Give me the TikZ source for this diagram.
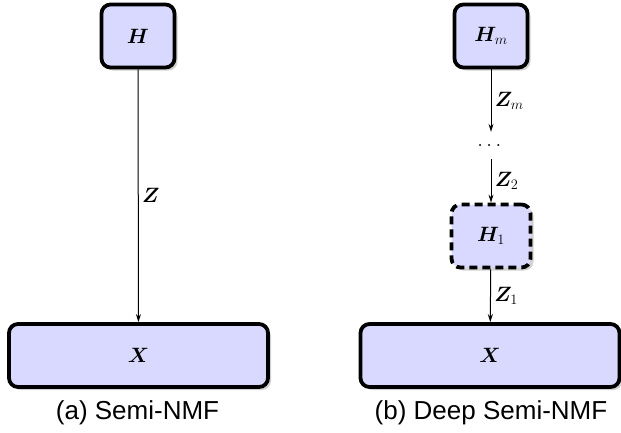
\documentclass[tikz,border=0pt]{standalone}
\usepackage{amsmath,amssymb,bm}
\usepackage{fontspec}
\setsansfont{Liberation Sans}
\usepackage{tikz}
\usetikzlibrary{arrows.meta, shadows}

\begin{document}
\begin{tikzpicture}[
    x=1pt,
    y=-1pt,
    layer/.style={rectangle, draw=black, fill=blue!15, line width=3.8pt, rounded corners=9pt, inner sep=0pt, font=\fontsize{21}{25}\selectfont, drop shadow={shadow xshift=3pt, shadow yshift=-3pt, fill=gray!70}},
    hidden/.style={layer, dash pattern=on 8pt off 5pt},
    link/.style={draw, line width=1pt, -{Stealth[length=8pt, width=5pt]}},
    weight/.style={right, font=\fontsize{21}{25}\selectfont},
    caption/.style={font=\sffamily\fontsize{26}{30}\selectfont}
]
\useasboundingbox (0,0) rectangle (621,432);

% (a) Semi-NMF
\node [layer, minimum width=73pt, minimum height=63pt] (h) at (138, 36) {$\bm{H}$};
\node [layer, minimum width=259pt, minimum height=63pt] (xa) at (138.5, 355.5) {$\bm{X}$};
\draw [link] (h) -- node [weight] {$\bm{Z}$} (xa);
\node [caption] (capa) at (137.5, 413) {(a) Semi-NMF};

% (b) Deep Semi-NMF
\node [layer, minimum width=73pt, minimum height=63pt] (hm) at (491, 36) {$\bm{H}_m$};
\node [font=\fontsize{21}{25}\selectfont, inner sep=0pt, minimum height=27pt] (dots) at (491, 145.5) {$\dots$};
\node [hidden, minimum width=79pt, minimum height=63pt] (h1) at (491, 236) {$\bm{H}_1$};
\node [layer, minimum width=259pt, minimum height=63pt] (xb) at (490, 355.5) {$\bm{X}$};
\draw [link] (hm) -- node [weight] {$\bm{Z}_m$} (dots);
\draw [link] (dots) -- node [weight] {$\bm{Z}_2$} (h1);
\draw [link] (h1) -- node [weight] {$\bm{Z}_1$} (xb);
\node [caption] (capb) at (491, 413) {(b) Deep Semi-NMF};

\end{tikzpicture}
\end{document}
